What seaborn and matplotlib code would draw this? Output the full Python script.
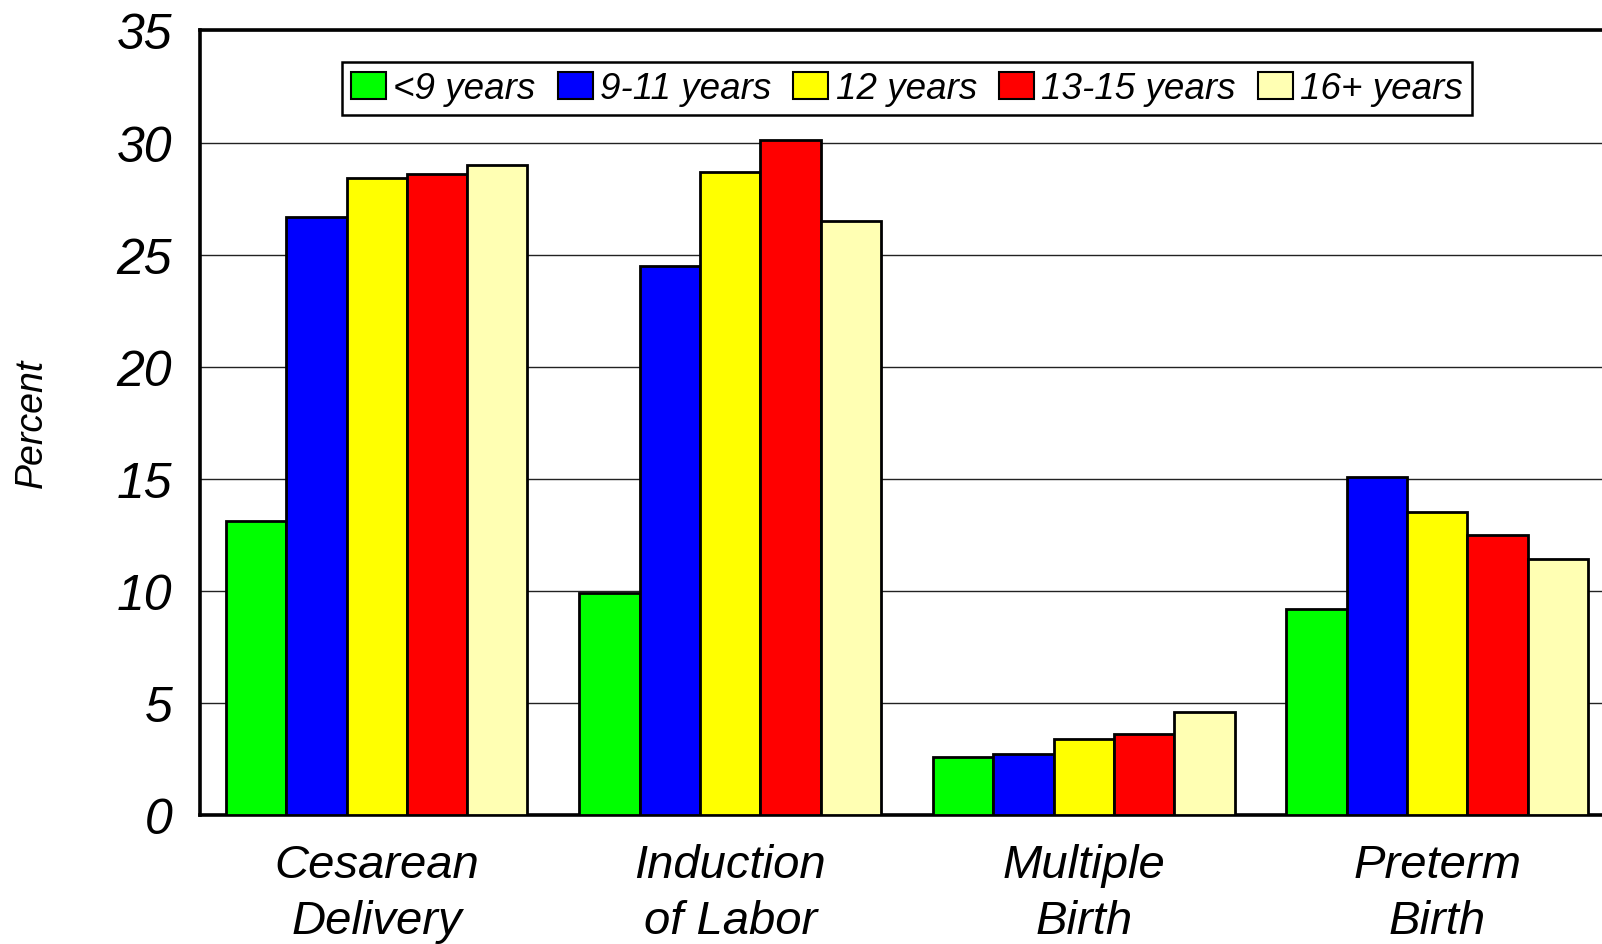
import matplotlib
matplotlib.use("Agg")
import matplotlib.pyplot as plt
import seaborn as sns
import pandas as pd

# Outcome categories and maternal education groups
categories = ["Cesarean\nDelivery", "Induction\nof Labor", "Multiple\nBirth", "Preterm\nBirth"]
groups = ["<9 years", "9-11 years", "12 years", "13-15 years", "16+ years"]

# Percent values per education group, one entry per category
lt9 = [13.1, 9.9, 2.6, 9.2]
y9_11 = [26.7, 24.5, 2.7, 15.1]
y12 = [28.4, 28.7, 3.4, 13.5]
y13_15 = [28.6, 30.1, 3.6, 12.5]
y16p = [29.0, 26.5, 4.6, 11.4]

colors = ["#00FF00", "#0000FF", "#FFFF00", "#FF0000", "#FFFFB3"]

series = [lt9, y9_11, y12, y13_15, y16p]
df = pd.DataFrame(
    [(c, g, v) for g, vals in zip(groups, series) for c, v in zip(categories, vals)],
    columns=["category", "group", "percent"],
)

sns.set_theme(style="white")
plt.rcParams["font.family"] = ["Liberation Sans", "DejaVu Sans"]
plt.rcParams["font.style"] = "italic"
plt.rcParams["text.color"] = "black"
plt.rcParams["axes.labelcolor"] = "black"
plt.rcParams["xtick.color"] = "black"
plt.rcParams["ytick.color"] = "black"

fig = plt.figure(figsize=(16.02, 9.45), dpi=100)
ax = fig.add_axes([0.1248, 0.1365, 0.8827, 0.8302])

sns.barplot(
    data=df, x="category", y="percent", hue="group",
    order=categories, hue_order=groups, palette=colors,
    width=0.853, gap=0, edgecolor="black", linewidth=2.0,
    saturation=1, errorbar=None, ax=ax, zorder=3,
)

ax.set_ylim(0, 35)
ax.set_xlim(-0.5, 3.5)
ax.set_yticks(range(0, 36, 5))
ax.yaxis.grid(True, color="#222222", linewidth=1.0, zorder=0)
ax.xaxis.grid(False)
ax.set_axisbelow(True)

for side in ["left", "bottom", "top"]:
    ax.spines[side].set_visible(True)
    ax.spines[side].set_color("black")
    ax.spines[side].set_linewidth(2.6)
ax.spines["right"].set_visible(False)

ax.tick_params(axis="y", length=0, pad=20, labelsize=36, labelcolor="black")
ax.tick_params(axis="x", length=0, pad=20, labelsize=34, labelcolor="black")
for lbl in ax.get_yticklabels():
    lbl.set_fontstyle("italic")
for lbl in ax.get_xticklabels():
    lbl.set_fontstyle("italic")
    lbl.set_linespacing(1.35)

ax.set_xlabel("")
ax.set_ylabel("Percent", fontsize=27, fontstyle="italic", color="black")
ax.yaxis.set_label_coords(-0.106, 0.5)

leg = ax.legend(
    loc="upper center", bbox_to_anchor=(0.5, 0.96), ncol=5,
    frameon=True, fancybox=False, edgecolor="black", framealpha=1,
    handlelength=0.95, handleheight=0.75, handletextpad=0.2,
    columnspacing=0.6, borderpad=0.25, borderaxespad=0,
    prop={"style": "italic", "size": 26.5},
)
leg.get_frame().set_linewidth(1.8)
for t in leg.get_texts():
    t.set_color("black")
for h in leg.legend_handles:
    h.set_edgecolor("black")
    h.set_linewidth(1.5)

fig.savefig("out.png", dpi=100)
